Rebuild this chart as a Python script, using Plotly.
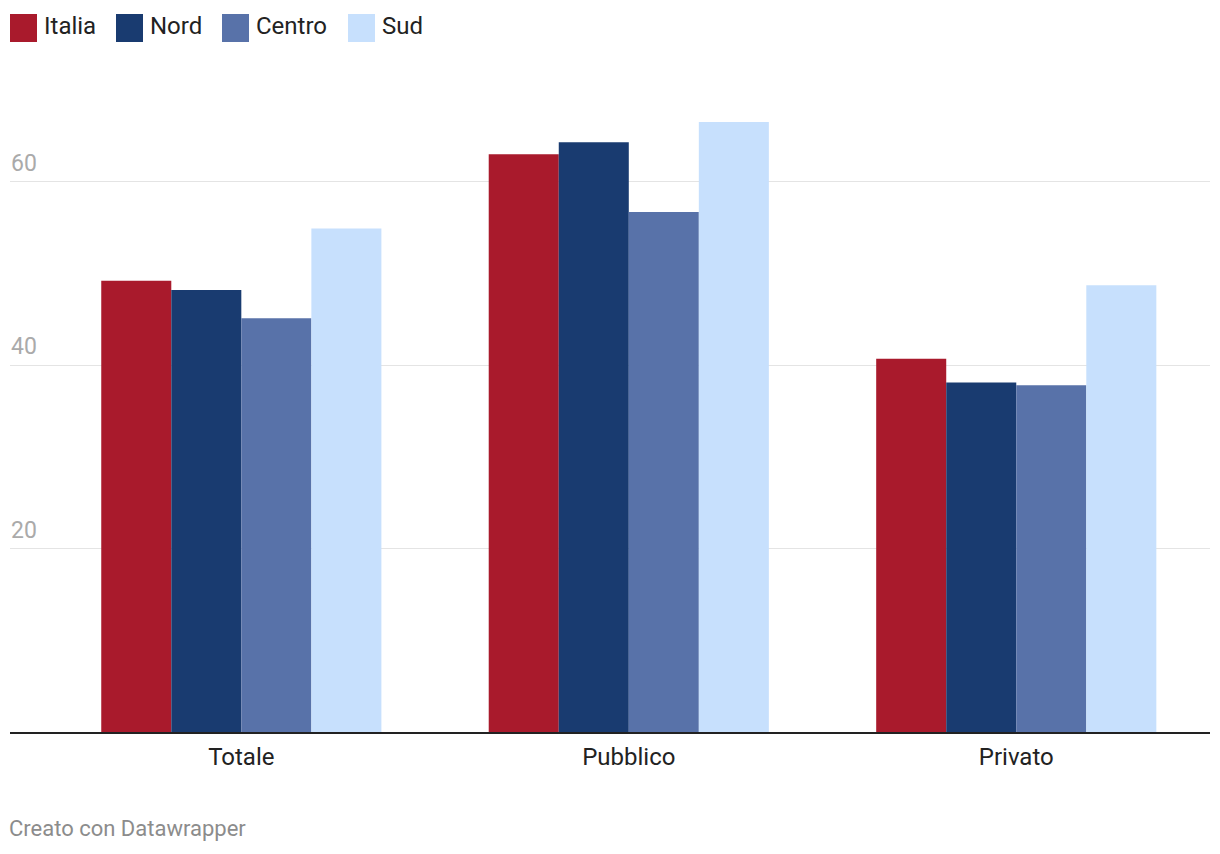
import plotly.graph_objects as go

# Dati
categorie = ["Totale", "Pubblico", "Privato"]
serie = ["Italia", "Nord", "Centro", "Sud"]
italia = [49.2, 63.0, 40.7]
nord = [48.2, 64.3, 38.1]
centro = [45.1, 56.7, 37.8]
sud = [54.9, 66.5, 48.7]
tick_y = [20, 40, 60]

colori = ["#a91a2c", "#193b70", "#5872a9", "#c7e0fd"]
valori = [italia, nord, centro, sud]

# la pagina aggiunge 8px di margine al body
OFF = 8
W, H = 1220 - OFF, 854 - OFF
L, R, T, B = 10 - OFF, 10, 90 - OFF, 122


def px_x(p):
    return (p - OFF - L) / (W - L - R)


def px_y(p):
    return (H - B - (p - OFF)) / (H - T - B)


fig = go.Figure()
pos = list(range(len(categorie)))
for nome, vals, col in zip(serie, valori, colori):
    fig.add_trace(go.Bar(x=pos, y=vals, name=nome, marker_color=col,
                         marker_line_width=0, showlegend=False))

fig.update_layout(
    width=W, height=H,
    margin=dict(l=L, r=R, t=T, b=B),
    paper_bgcolor="white", plot_bgcolor="white",
    barmode="group", bargap=0.277, bargroupgap=0,
    font=dict(family="Roboto", size=24, color="#222"),
)
fig.update_xaxes(
    range=[-0.597, 2.5], tickvals=pos, ticktext=categorie,
    showgrid=False, zeroline=False,
    showline=True, linecolor="#222", linewidth=2,
    ticks="outside", ticklen=2, tickcolor="rgba(0,0,0,0)",
    tickfont=dict(size=24, color="#222"),
)
fig.update_yaxes(
    range=[0, 70], tickvals=tick_y, showgrid=True, gridcolor="#e4e4e4",
    gridwidth=1, zeroline=False, showline=False,
    ticklabelposition="inside top", ticklabelstandoff=-2, ticklabelshift=-3,
    tickfont=dict(size=23, color="#aaaaaa"),
)

# Legenda personalizzata
leg_x = [10, 116, 222, 348]
for nome, col, lx in zip(serie, colori, leg_x):
    fig.add_shape(type="rect", xref="paper", yref="paper",
                  x0=px_x(lx), x1=px_x(lx + 27), y0=px_y(42), y1=px_y(14),
                  fillcolor=col, line_width=0)
    fig.add_annotation(xref="paper", yref="paper", x=px_x(lx + 32), y=px_y(25.5),
                       text=nome, showarrow=False, xanchor="left", yanchor="middle",
                       font=dict(size=24, color="#222"))

fig.add_annotation(xref="paper", yref="paper", x=px_x(7), y=px_y(828),
                   text="Creato con Datawrapper", showarrow=False,
                   xanchor="left", yanchor="middle",
                   font=dict(size=22, color="#8c8c8c"))

fig.write_html("out.html")
